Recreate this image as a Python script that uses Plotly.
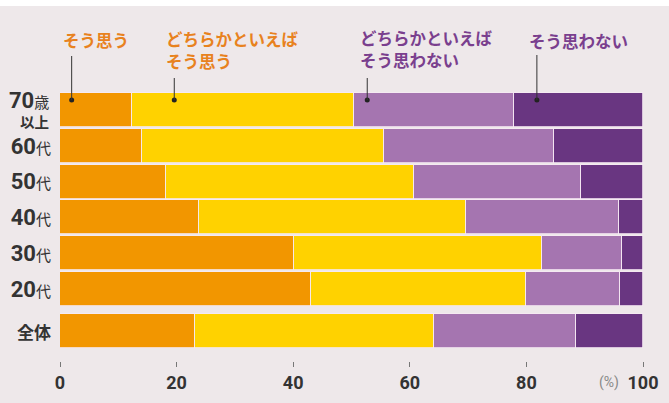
import plotly.graph_objects as go

categories = ["70歳以上", "60代", "50代", "40代", "30代", "20代", "全体"]
cat_labels = [
    "",
    "<b>60</b><span style='font-size:15px'>代</span>",
    "<b>50</b><span style='font-size:15px'>代</span>",
    "<b>40</b><span style='font-size:15px'>代</span>",
    "<b>30</b><span style='font-size:15px'>代</span>",
    "<b>20</b><span style='font-size:15px'>代</span>",
    "<span style='font-size:17px'><b>全体</b></span>",
]
y_pos = [0, 1, 2, 3, 4, 5, 6.17]

series_names = ["そう思う", "どちらかといえばそう思う", "どちらかといえばそう思わない", "そう思わない"]
agree = [12.4, 14.0, 18.2, 23.9, 40.2, 43.1, 23.2]
rather_agree = [38.0, 41.6, 42.6, 45.8, 42.4, 36.9, 41.0]
rather_disagree = [27.5, 29.1, 28.6, 26.1, 13.8, 16.1, 24.3]
disagree = [22.1, 15.3, 10.6, 4.2, 3.6, 3.9, 11.5]
series_values = [agree, rather_agree, rather_disagree, disagree]
colors = ["#F29600", "#FFD200", "#A575B0", "#693681"]

# legend label lines: (text, left x in data units, center y in pixels, colour index)
legend_lines = [
    ("そう思う", 0.4, 40, 0),
    ("どちらかといえば", 18.0, 39, 1),
    ("そう思う", 18.0, 61, 1),
    ("どちらかといえば", 51.2, 38, 2),
    ("そう思わない", 51.2, 60, 2),
    ("そう思わない", 80.3, 41, 3),
]
leader_x = [2.0, 19.6, 52.7, 81.8]
leader_top_pix = [56, 78, 78, 55]
label_colors = ["#E8821E", "#E8821E", "#7A3F8E", "#7A3F8E"]

x_ticks = [0, 20, 40, 60, 80, 100]

FONT = "Roboto, Liberation Sans, Noto Sans CJK JP, sans-serif"
JFONT = "Noto Sans CJK JP, sans-serif"

fig = go.Figure()
for name, vals, col in zip(series_names, series_values, colors):
    fig.add_trace(go.Bar(
        name=name, x=vals, y=y_pos, orientation="h",
        marker=dict(color=col, line=dict(color="#F6EAF4", width=0.8)),
        width=0.95, showlegend=False, hoverinfo="x+name",
    ))

H = 403
W = 669
top_m, bot_m = 90, 42
left_m, right_m = 60, 26
plot_h = H - top_m - bot_m
plot_w = W - left_m - right_m


def pix2paper(p):
    return (H - bot_m - p) / plot_h


def xpix2paper(p):
    return (p - left_m) / plot_w


# leader lines and dots
for lx, tp in zip(leader_x, leader_top_pix):
    fig.add_shape(type="line", xref="x", yref="paper", x0=lx, x1=lx,
                  y0=pix2paper(tp), y1=pix2paper(100),
                  line=dict(color="#333333", width=1))
fig.add_trace(go.Scatter(x=leader_x, y=[-0.28] * 4, mode="markers",
                         marker=dict(color="#222222", size=5),
                         showlegend=False, hoverinfo="skip", cliponaxis=False))

for txt, tx, ty, ci in legend_lines:
    fig.add_annotation(text="<b>" + txt + "</b>", x=tx, xref="x", y=pix2paper(ty), yref="paper",
                       xanchor="left", yanchor="middle", align="left", showarrow=False,
                       borderpad=0,
                       font=dict(family=JFONT, size=16.5, color=label_colors[ci]))

# 70歳以上 label (two lines)
fig.add_annotation(text="<b>70</b><span style='font-size:15px'>歳</span>", x=xpix2paper(50), xref="paper",
                   y=pix2paper(100), yref="paper", xanchor="right", yanchor="middle", showarrow=False,
                   borderpad=0,
                   font=dict(family=FONT, size=22, color="#333333"))
fig.add_annotation(text="<b>以上</b>", x=xpix2paper(50), xref="paper",
                   y=pix2paper(121), yref="paper", xanchor="right", yanchor="middle", showarrow=False,
                   borderpad=0,
                   font=dict(family=JFONT, size=14.5, color="#333333"))

fig.add_annotation(text="(%)", x=96.3, xref="x", y=pix2paper(382), yref="paper",
                   xanchor="right", yanchor="middle", showarrow=False,
                   font=dict(family=FONT, size=14, color="#888888"))

# white strip at the top
fig.add_shape(type="rect", xref="paper", yref="paper", x0=-0.2, x1=1.2,
              y0=pix2paper(6), y1=pix2paper(-2), fillcolor="white", line=dict(width=0), layer="above")

fig.update_layout(
    barmode="stack",
    width=W, height=H,
    margin=dict(l=left_m, r=right_m, t=top_m, b=bot_m, autoexpand=False),
    paper_bgcolor="#EEE8EA", plot_bgcolor="#EEE8EA",
    bargap=0,
    font=dict(family=FONT, color="#333333"),
)
fig.update_xaxes(range=[0, 100], tickvals=x_ticks, ticktext=["<b>%d</b>" % t for t in x_ticks],
                 showgrid=False, zeroline=False, showline=False, automargin=False,
                 ticks="outside", ticklen=5, tickcolor="#777777", tickwidth=1,
                 tickfont=dict(family=FONT, size=18, color="#333333"), fixedrange=True)
fig.update_yaxes(range=[7.01, -0.56], tickvals=y_pos, ticktext=cat_labels, automargin=False,
                 showgrid=False, zeroline=False, showline=False, ticks="",
                 tickfont=dict(family=FONT, size=22, color="#333333"), ticklabelstandoff=8,
                 fixedrange=True)

fig.write_html("out.html")
